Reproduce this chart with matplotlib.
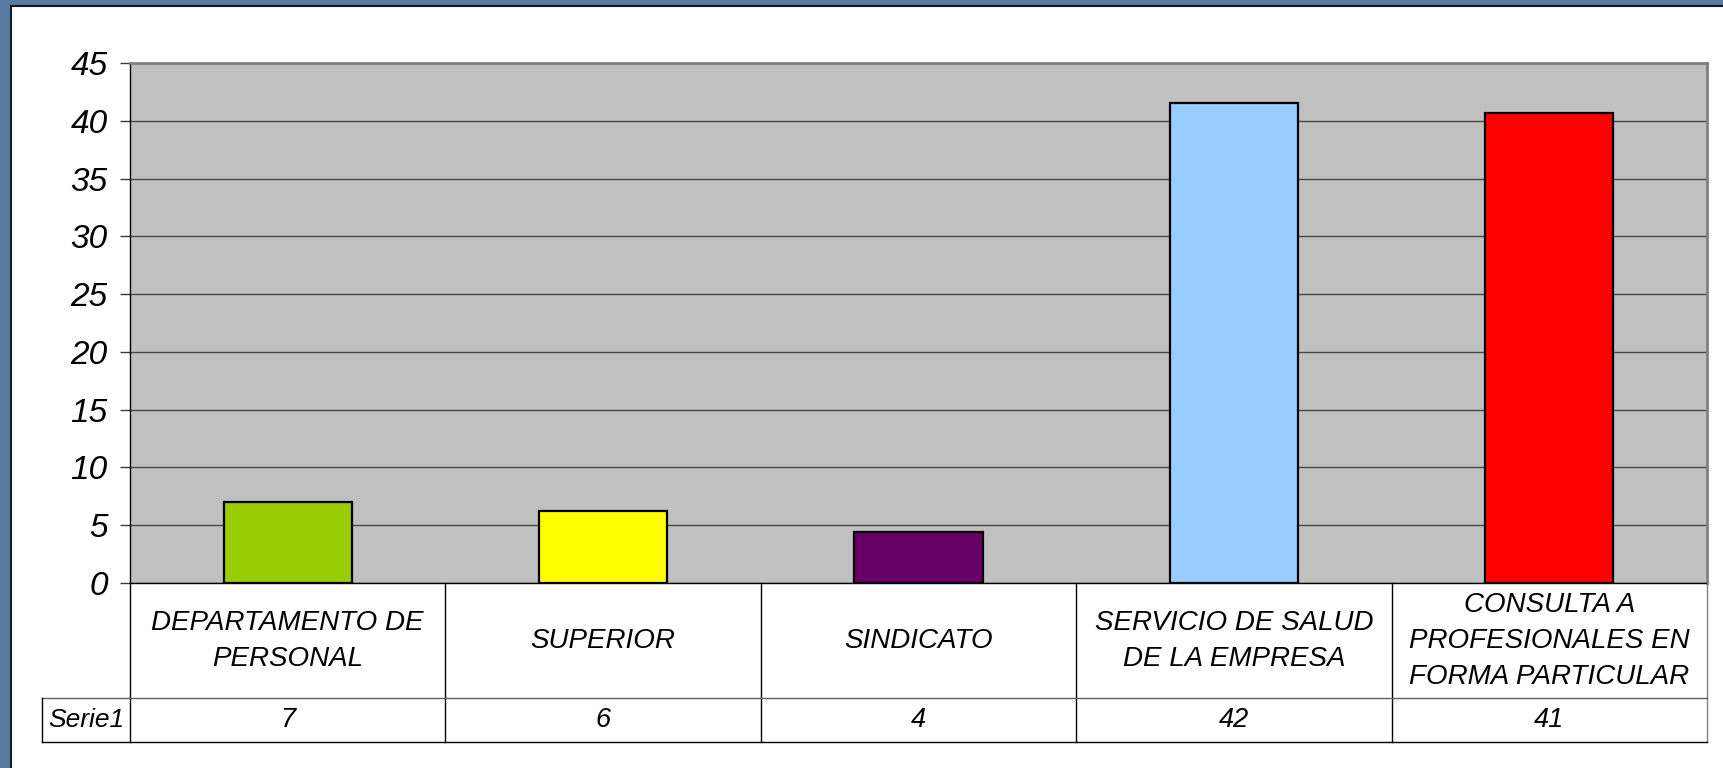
import matplotlib.pyplot as plt
import matplotlib.transforms as mtransforms
from matplotlib.patches import Rectangle

# ---- data ----
categories = [
    "DEPARTAMENTO DE\nPERSONAL",
    "SUPERIOR",
    "SINDICATO",
    "SERVICIO DE SALUD\nDE LA EMPRESA",
    "CONSULTA A\nPROFESIONALES EN\nFORMA PARTICULAR",
]
values = [7.0, 6.2, 4.4, 41.5, 40.7]
bar_colors = ["#99CC00", "#FFFF00", "#660066", "#99CCFF", "#FF0000"]
series_name = "Serie1"
yticks = [0, 5, 10, 15, 20, 25, 30, 35, 40, 45]

plt.rcParams["font.family"] = ["Liberation Sans", "DejaVu Sans"]

W, H = 1724, 768
fig = plt.figure(figsize=(W / 100, H / 100), dpi=100)
fig.patch.set_facecolor("#587ca4")

# white chart area with dark frame (left and top edges visible)
fig.patches.append(Rectangle((11 / W, -0.01), 1.02, 1 - 6 / H + 0.01,
                             transform=fig.transFigure, facecolor="white",
                             edgecolor="#1a1a1a", linewidth=1.5, zorder=-5))

ax = fig.add_axes([130 / W, 1 - 583 / H, 1577 / W, 520 / H])
ax.set_facecolor("#C0C0C0")

x = list(range(len(categories)))
ax.bar(x, values, width=0.406, color=bar_colors, edgecolor="black",
       linewidth=1.6, zorder=3)

ax.set_xlim(-0.5, len(categories) - 0.5)
ax.set_ylim(0, 45)
ax.set_yticks(yticks)
ax.set_yticklabels([str(t) for t in yticks], fontsize=24, style="italic")
ax.yaxis.grid(True, color="#484848", linewidth=1.0, zorder=1)
ax.tick_params(axis="y", length=7, width=1, color="#3c3c3c", pad=9)
ax.set_xticks([])

for side in ["top", "right"]:
    ax.spines[side].set_color("#808080")
    ax.spines[side].set_linewidth(2)
ax.spines["left"].set_color("black")
ax.spines["bottom"].set_color("black")
ax.spines["left"].set_linewidth(1)
ax.spines["bottom"].set_linewidth(1)

# ---- data table under the plot ----
tr = mtransforms.blended_transform_factory(ax.transData, ax.transAxes)
row1 = -115 / 520
row2 = -159 / 520
left_cell = -0.5 - 88 / 315.4

line_kw = dict(transform=tr, clip_on=False, linewidth=1, zorder=5)
for b in [-0.5 + i for i in range(len(categories) + 1)]:
    col = "#808080" if b == len(categories) - 0.5 else "black"
    ax.plot([b, b], [0, row2], color=col, **line_kw)
ax.plot([left_cell, len(categories) - 0.5], [row1, row1], color="#606060", **line_kw)
ax.plot([left_cell, len(categories) - 0.5], [row2, row2], color="black", **line_kw)
ax.plot([left_cell, left_cell], [row1, row2], color="black", **line_kw)

for xi, cat, v in zip(x, categories, values):
    ax.text(xi, row1 / 2, cat, transform=tr, ha="center", va="center",
            fontsize=20, style="italic", linespacing=1.5, clip_on=False)
    ax.text(xi, (row1 + row2) / 2, f"{v:.0f}", transform=tr, ha="center",
            va="center", fontsize=19.5, style="italic", clip_on=False)
ax.text((left_cell - 0.5) / 2, (row1 + row2) / 2, series_name, transform=tr,
        ha="center", va="center", fontsize=19, style="italic", clip_on=False)

fig.savefig("out.png", dpi=100, facecolor=fig.get_facecolor())
